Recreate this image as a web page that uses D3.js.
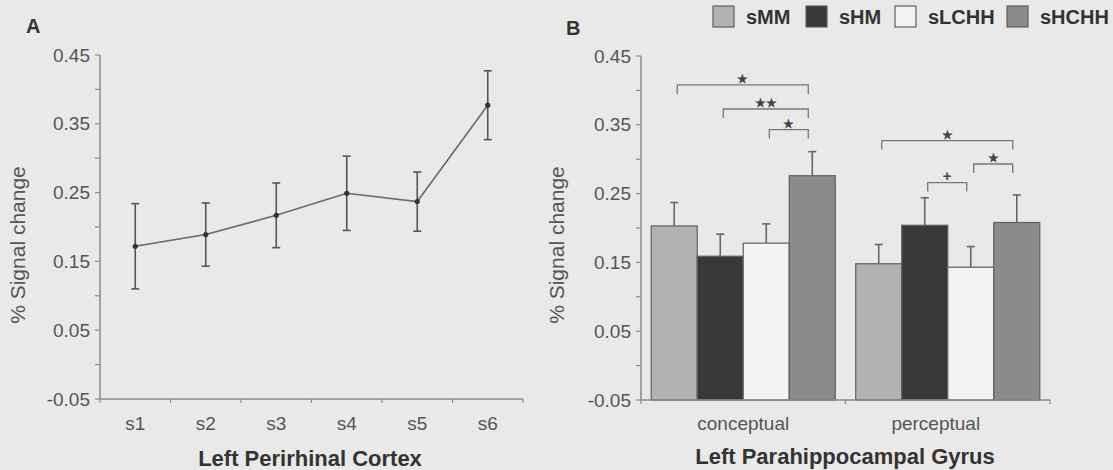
<!DOCTYPE html>
<html><head><meta charset="utf-8">
<script src="https://cdn.jsdelivr.net/npm/d3@7"></script>
<style>
html,body{margin:0;padding:0;background:#e9e9e9;}
svg{display:block;}
text{font-family:"Liberation Sans",Arial,sans-serif;}
</style></head>
<body>
<svg id="chart" width="1113" height="470"></svg>
<script>
// ---------- data ----------
const sessions = ["s1", "s2", "s3", "s4", "s5", "s6"];
const prcMean = [0.172, 0.189, 0.217, 0.249, 0.237, 0.377];
const prcErr = [0.062, 0.046, 0.047, 0.054, 0.043, 0.050];

const conditions = ["conceptual", "perceptual"];
const seriesNames = ["sMM", "sHM", "sLCHH", "sHCHH"];
const sMM = [0.203, 0.148];
const sHM = [0.159, 0.204];
const sLCHH = [0.178, 0.143];
const sHCHH = [0.276, 0.208];
const sMMErr = [0.034, 0.028];
const sHMErr = [0.032, 0.040];
const sLCHHErr = [0.028, 0.030];
const sHCHHErr = [0.035, 0.040];

const yTickLabels = ["-0.05", "0.05", "0.15", "0.25", "0.35", "0.45"];
const yMinorTicks = [0.0, 0.1, 0.2, 0.3, 0.4];

const sigBrackets = [
  {group: 0, from: "sMM",   to: "sHCHH", level: 0.408, label: "★"},
  {group: 0, from: "sHM",   to: "sHCHH", level: 0.373, label: "★★"},
  {group: 0, from: "sLCHH", to: "sHCHH", level: 0.343, label: "★"},
  {group: 1, from: "sMM",   to: "sHCHH", level: 0.327, label: "★"},
  {group: 1, from: "sLCHH", to: "sHCHH", level: 0.293, label: "★"},
  {group: 1, from: "sHM",   to: "sLCHH", level: 0.266, label: "+"}
];

// ---------- styles ----------
const axisColor = "#8a8a8a";
const tickText = "#555";
const titleText = "#333";
const barColors = {sMM: "#b2b2b2", sHM: "#383838", sLCHH: "#f3f3f3", sHCHH: "#8b8b8b"};

const svg = d3.select("#chart");

function drawYAxis(g, y, x0) {
  g.append("line").attr("x1", x0).attr("x2", x0)
    .attr("y1", y(0.45)).attr("y2", y(-0.05))
    .attr("stroke", axisColor).attr("stroke-width", 1.5);
  const ticks = yTickLabels.map(Number).concat(yMinorTicks);
  g.selectAll(null).data(ticks).enter().append("line")
    .attr("x1", x0 - 5).attr("x2", x0)
    .attr("y1", d => y(d)).attr("y2", d => y(d))
    .attr("stroke", axisColor).attr("stroke-width", 1.2);
  g.selectAll(null).data(yTickLabels).enter().append("text")
    .attr("x", x0 - 10).attr("y", d => y(+d))
    .attr("dy", "0.35em").attr("text-anchor", "end")
    .attr("font-size", 19).attr("fill", tickText)
    .text(d => d);
}

function yTitle(cx, cy) {
  svg.append("text").attr("transform", `translate(${cx},${cy}) rotate(-90)`)
    .attr("text-anchor", "middle").attr("dy", "0.35em")
    .attr("font-size", 21).attr("fill", tickText).text("% Signal change");
}

// ---------- Panel A ----------
const yA = d3.scaleLinear().domain([-0.05, 0.45]).range([399, 55]);
const xA = d3.scaleBand().domain(sessions).range([100, 523]);
const gA = svg.append("g");
drawYAxis(gA, yA, 100);
gA.append("line").attr("x1", 100).attr("x2", 523).attr("y1", yA(-0.05)).attr("y2", yA(-0.05))
  .attr("stroke", axisColor).attr("stroke-width", 1.5);
const bA = sessions.map(s => xA(s)).concat([523]);
gA.selectAll(null).data(bA).enter().append("line")
  .attr("x1", d => d).attr("x2", d => d).attr("y1", yA(-0.05)).attr("y2", yA(-0.05) + 4)
  .attr("stroke", axisColor).attr("stroke-width", 1.2);
gA.selectAll(null).data(sessions).enter().append("text")
  .attr("x", d => xA(d) + xA.bandwidth() / 2).attr("y", 423).attr("dy", "0.35em")
  .attr("text-anchor", "middle").attr("font-size", 19).attr("fill", tickText).text(d => d);

const ptsA = sessions.map((s, i) => ({s, m: prcMean[i], e: prcErr[i]}));
const cx = d => xA(d.s) + xA.bandwidth() / 2;
gA.append("path").datum(ptsA)
  .attr("d", d3.line().x(cx).y(d => yA(d.m)))
  .attr("fill", "none").attr("stroke", "#6a6a6a").attr("stroke-width", 1.6);
const eA = gA.selectAll(null).data(ptsA).enter().append("g");
eA.append("line").attr("x1", cx).attr("x2", cx)
  .attr("y1", d => yA(d.m + d.e)).attr("y2", d => yA(d.m - d.e))
  .attr("stroke", "#555").attr("stroke-width", 1.6);
[1, -1].forEach(sg => {
  eA.append("line").attr("x1", d => cx(d) - 4).attr("x2", d => cx(d) + 4)
    .attr("y1", d => yA(d.m + sg * d.e)).attr("y2", d => yA(d.m + sg * d.e))
    .attr("stroke", "#555").attr("stroke-width", 1.6);
});
eA.append("circle").attr("cx", cx).attr("cy", d => yA(d.m)).attr("r", 2.6).attr("fill", "#333");

yTitle(18, 245);
svg.append("text").attr("x", 310).attr("y", 458).attr("dy", "0.35em").attr("text-anchor", "middle")
  .attr("font-size", 22).attr("font-weight", "bold").attr("fill", titleText).text("Left Perirhinal Cortex");
svg.append("text").attr("x", 26).attr("y", 33).attr("font-size", 20).attr("font-weight", "bold")
  .attr("fill", titleText).text("A");

// ---------- Panel B ----------
const yB = d3.scaleLinear().domain([-0.05, 0.45]).range([400, 56]);
const xB = d3.scaleBand().domain(conditions).range([641, 1050]).paddingInner(0.1).paddingOuter(0.05);
const xS = d3.scaleBand().domain(seriesNames).range([0, xB.bandwidth()]);
const gB = svg.append("g");

const vals = {sMM, sHM, sLCHH, sHCHH};
const errs = {sMM: sMMErr, sHM: sHMErr, sLCHH: sLCHHErr, sHCHH: sHCHHErr};
const barData = [];
conditions.forEach((c, ci) => seriesNames.forEach(s => barData.push({c, ci, s, v: vals[s][ci], e: errs[s][ci]})));
const bx = d => xB(d.c) + xS(d.s);
const bc = d => bx(d) + xS.bandwidth() / 2;

// error bars (upper only)
gB.selectAll(null).data(barData).enter().append("line")
  .attr("x1", bc).attr("x2", bc).attr("y1", d => yB(d.v)).attr("y2", d => yB(d.v + d.e))
  .attr("stroke", "#666").attr("stroke-width", 1.6);
gB.selectAll(null).data(barData).enter().append("line")
  .attr("x1", d => bc(d) - 4).attr("x2", d => bc(d) + 4)
  .attr("y1", d => yB(d.v + d.e)).attr("y2", d => yB(d.v + d.e))
  .attr("stroke", "#666").attr("stroke-width", 1.6);
gB.selectAll(null).data(barData).enter().append("rect")
  .attr("x", bx).attr("width", xS.bandwidth())
  .attr("y", d => yB(d.v)).attr("height", d => yB(-0.05) - yB(d.v))
  .attr("fill", d => barColors[d.s]).attr("stroke", "#606060").attr("stroke-width", 1.2);

drawYAxis(gB, yB, 641);
gB.append("line").attr("x1", 641).attr("x2", 1050).attr("y1", yB(-0.05)).attr("y2", yB(-0.05))
  .attr("stroke", axisColor).attr("stroke-width", 1.5);
const bB = [641, (xB("conceptual") + xB.bandwidth() + xB("perceptual")) / 2, 1050];
gB.selectAll(null).data(bB).enter().append("line")
  .attr("x1", d => d).attr("x2", d => d).attr("y1", yB(-0.05)).attr("y2", yB(-0.05) + 4)
  .attr("stroke", axisColor).attr("stroke-width", 1.2);
gB.selectAll(null).data(conditions).enter().append("text")
  .attr("x", d => xB(d) + xB.bandwidth() / 2 - (d === "perceptual" ? 12 : 0)).attr("y", 423).attr("dy", "0.35em")
  .attr("text-anchor", "middle").attr("font-size", 19).attr("fill", tickText).text(d => d);

// significance brackets
const br = gB.selectAll(null).data(sigBrackets).enter().append("g");
const bxl = d => xB(conditions[d.group]) + xS(d.from) + xS.bandwidth() / 2 + 3;
const bxr = d => xB(conditions[d.group]) + xS(d.to) + xS.bandwidth() / 2 - 4;
br.append("path")
  .attr("d", d => `M${bxl(d)},${yB(d.level) + 9}V${yB(d.level)}H${bxr(d)}V${yB(d.level) + 9}`)
  .attr("fill", "none").attr("stroke", "#777").attr("stroke-width", 1.3);
br.append("text").attr("x", d => (bxl(d) + bxr(d)) / 2).attr("y", d => yB(d.level) - 2)
  .attr("text-anchor", "middle").attr("font-size", d => d.label === "+" ? 15 : 12)
  .attr("font-weight", "bold").attr("fill", "#444")
  .attr("font-family", "DejaVu Sans, sans-serif").text(d => d.label);

yTitle(557, 245);
svg.append("text").attr("x", 845).attr("y", 456).attr("dy", "0.35em").attr("text-anchor", "middle")
  .attr("font-size", 22).attr("font-weight", "bold").attr("fill", titleText).text("Left Parahippocampal Gyrus");
svg.append("text").attr("x", 566).attr("y", 35).attr("font-size", 20).attr("font-weight", "bold")
  .attr("fill", titleText).text("B");

// legend
const legendX = [713, 806, 895, 1007];
const lg = svg.append("g").selectAll(null).data(seriesNames).enter().append("g")
  .attr("transform", (d, i) => `translate(${legendX[i]},6)`);
lg.append("rect").attr("width", 21).attr("height", 21)
  .attr("fill", d => barColors[d]).attr("stroke", "#606060").attr("stroke-width", 1.2);
lg.append("text").attr("x", 33).attr("y", 11).attr("dy", "0.35em")
  .attr("font-size", 20).attr("font-weight", "bold").attr("fill", titleText).text(d => d);
</script>
</body></html>
